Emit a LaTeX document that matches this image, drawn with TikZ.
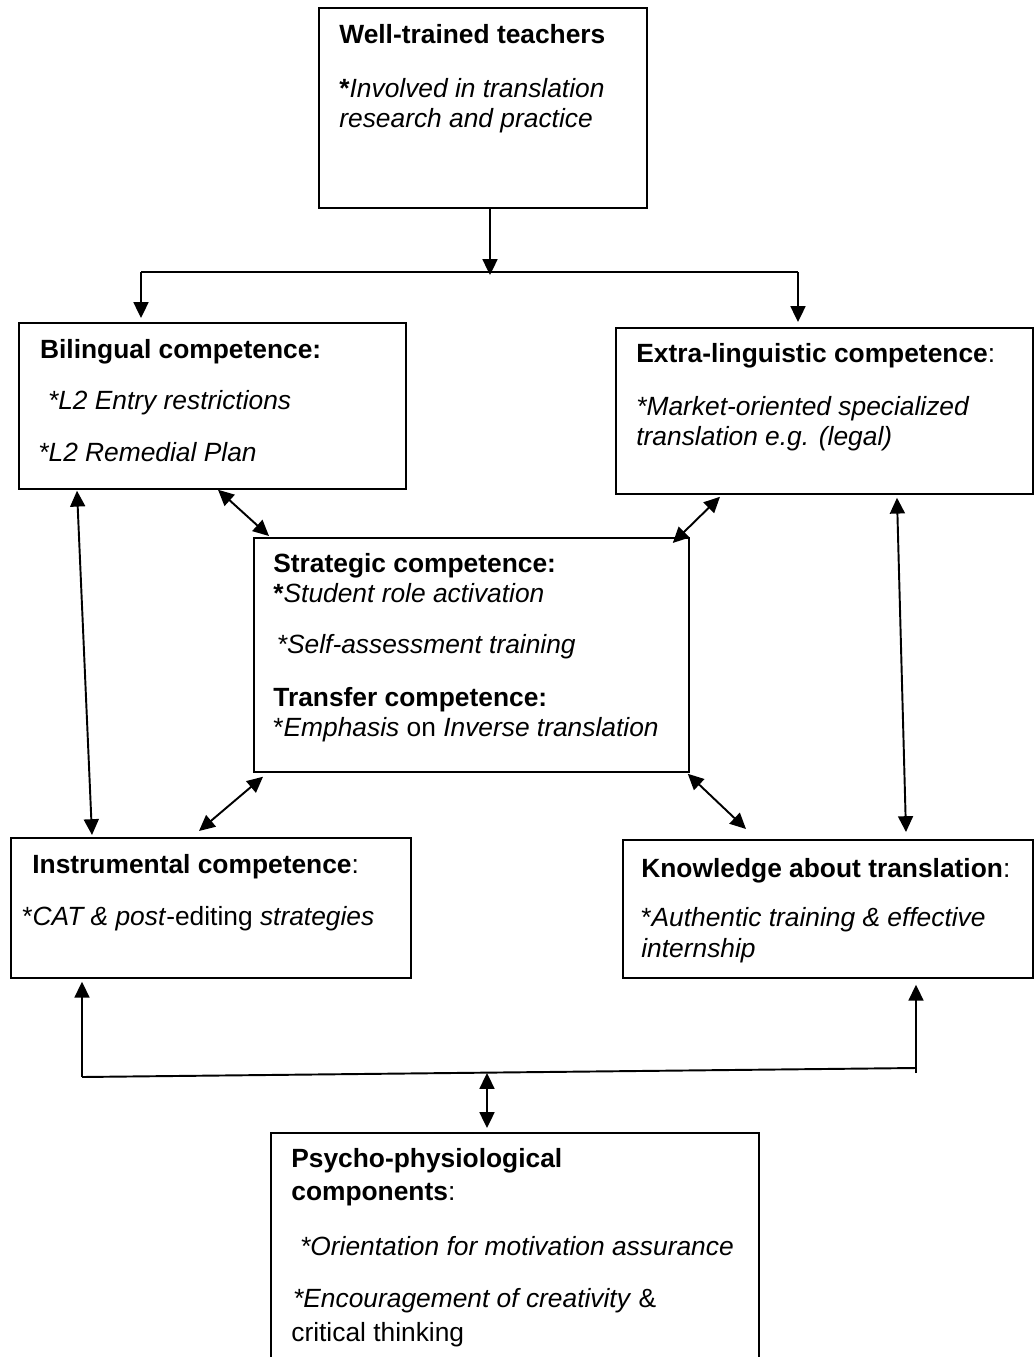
\documentclass[tikz,border=0pt]{standalone}
\usepackage{fontspec}
\setmainfont{Liberation Sans}
\usetikzlibrary{arrows.meta,positioning,calc}

\begin{document}
\begin{tikzpicture}[
    x=0.02cm, y=-0.02cm,
    box/.style 2 args={rectangle, draw, line width=1pt, anchor=north west, inner sep=0pt,
        minimum width=#1*0.02cm, minimum height=#2*0.02cm},
    txt/.style={anchor=north west, inner sep=0pt, align=left, font=\fontsize{15}{17}\selectfont},
    arrow/.style={-{Triangle[length=9pt,width=8.5pt]}, line width=1.1pt},
    twoway/.style={{Triangle[length=9pt,width=8.5pt]}-{Triangle[length=9pt,width=8.5pt]}, line width=1.1pt},
    link/.style={line width=1.1pt}
]
    \useasboundingbox (0,0) rectangle (1034,1357);

    % boxes
    \node[box={328}{200}] (teach) at (318,7) {};
    \node[box={387}{166}] (bil) at (18,322) {};
    \node[box={417}{166}] (ext) at (615,327) {};
    \node[box={435}{234}] (str) at (253,537) {};
    \node[box={400}{140}] (ins) at (10,837) {};
    \node[box={410}{138}] (kno) at (622,839) {};
    \node[box={488}{260}] (psy) at (270,1132) {};

    % texts
    \node[txt] (teachtxt) at ($(teach.north west)+(21,17)$)
        {\textbf{Well-trained teachers}\\[13.6pt]
         \textbf{*}\textit{Involved in translation}\\
         \textit{research and practice}};
    \node[txt] (biltxt) at ($(bil.north west)+(20,17)$)
        {\hspace*{1pt}\textbf{Bilingual competence:}\\[11.9pt]
         \hspace*{5.5pt}\textit{*L2 Entry restrictions}\\[13pt]
         \textit{*L2 Remedial Plan}};
    \node[txt] (exttxt) at ($(ext.north west)+(21,16)$)
        {\textbf{Extra-linguistic competence}:\\[13pt]
         \textit{*Market-oriented specialized}\\
         \textit{translation e.g. (legal)}};
    \node[txt] (strtxt) at ($(str.north west)+(20,16)$)
        {\textbf{Strategic competence:}\\
         \textbf{*}\textit{Student role activation}\\[11.9pt]
         \hspace*{2pt}\textit{*Self-assessment training}\\[13.6pt]
         \textbf{Transfer competence:}\\
         *\textit{Emphasis} on \textit{Inverse translation}};
    \node[txt] (instxt) at ($(ins.north west)+(12,17)$)
        {\hspace*{5.7pt}\textbf{Instrumental competence}:\\[12.5pt]
         *\textit{CAT \& post}-editing \textit{strategies}};
    \node[txt] (knotxt) at ($(kno.north west)+(19,19)$)
        {\textbf{Knowledge about translation}:\\[10.8pt]
         *\textit{Authentic training \& effective}\\[1pt]
         \textit{internship}};
    \node[txt] (psytxt) at ($(psy.north west)+(21,16)$)
        {\textbf{Psycho-physiological}\\[1.7pt]
         \textbf{components}:\\[14.2pt]
         \hspace*{5pt}\textit{*Orientation for motivation assurance}\\[13pt]
         \hspace*{1pt}\textit{*Encouragement of creativity} \&\\[2.3pt]
         critical thinking};

    % top split
    \coordinate (jt) at (490,272);
    \coordinate (jl) at (141,272);
    \coordinate (jr) at (798,272);
    \draw[arrow] (teach.south -| jt) -- ($(jt)+(0,3)$);
    \draw[link] (jl) -- (jr);
    \draw[arrow] (jl) -- ($(jl |- bil.north)+(0,-4)$);
    \draw[arrow] (jr) -- ($(jr |- ext.north)+(0,-5)$);

    % links round the middle box
    \draw[twoway] ($(bil.south west)+(200,0)$) -- ($(str.north west)+(16,-1)$);
    \draw[twoway] ($(ext.south west)+(105,2)$) -- ($(str.north east)+(-17,6)$);
    \draw[twoway] ($(str.south west)+(10,4)$) -- ($(ins.north west)+(189,-6)$);
    \draw[twoway] ($(str.south east)+(-2,1)$) -- ($(kno.north west)+(124,-10)$);
    \draw[twoway] ($(bil.south west)+(59,1)$) -- ($(ins.north west)+(82,-2)$);
    \draw[twoway] ($(ext.south west)+(282,3)$) -- ($(kno.north west)+(284,-7)$);

    % bottom join
    \coordinate (bl) at (82,1077);
    \coordinate (br) at (916,1068);
    \coordinate (bm) at (487,1073);
    \draw[link] (bl) -- (br);
    \draw[arrow] (bl) -- ($(ins.south -| bl)+(0,3)$);
    \draw[arrow] ($(br)+(0,5)$) -- ($(kno.south -| br)+(0,6)$);
    \draw[twoway] (bm) -- ($(psy.north -| bm)+(0,-4)$);
\end{tikzpicture}
\end{document}
